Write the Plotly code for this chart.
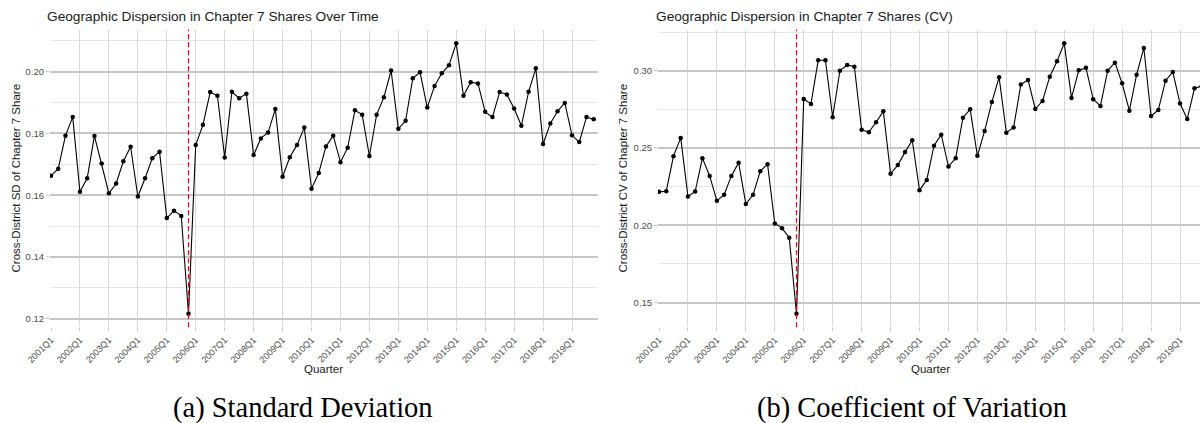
import plotly.graph_objects as go

# Quarterly periods 2001Q1 .. 2019Q4
YEARS = list(range(2001, 2020))
QUARTERS = [f"{y}Q{q}" for y in YEARS for q in range(1, 5)]
TICK_LABELS = [f"{y}Q1" for y in YEARS]
BREAK_QUARTER = "2005Q4"

# Cross-district standard deviation of the Chapter 7 share
SD_VALUES = [
    0.1663, 0.1686, 0.1793, 0.1853, 0.1611, 0.1655, 0.1792, 0.1703,
    0.1606, 0.1638, 0.1710, 0.1757, 0.1596, 0.1655, 0.1720, 0.1741,
    0.1526, 0.1550, 0.1533, 0.1216, 0.1763, 0.1828, 0.1934, 0.1922,
    0.1722, 0.1935, 0.1914, 0.1929, 0.1730, 0.1784, 0.1803, 0.1879,
    0.1660, 0.1723, 0.1763, 0.1819, 0.1621, 0.1672, 0.1758, 0.1793,
    0.1707, 0.1754, 0.1875, 0.1861, 0.1727, 0.1861, 0.1917, 0.2004,
    0.1815, 0.1841, 0.1979, 0.1998, 0.1884, 0.1954, 0.1995, 0.2021,
    0.2092, 0.1922, 0.1966, 0.1962, 0.1870, 0.1853, 0.1934, 0.1926,
    0.1881, 0.1825, 0.1935, 0.2011, 0.1766, 0.1832, 0.1872, 0.1899,
    0.1794, 0.1772, 0.1853, 0.1846,
]

# Cross-district coefficient of variation of the Chapter 7 share
CV_VALUES = [
    0.2216, 0.2220, 0.2447, 0.2565, 0.2186, 0.2218, 0.2434, 0.2319,
    0.2158, 0.2197, 0.2319, 0.2405, 0.2138, 0.2197, 0.2350, 0.2395,
    0.2011, 0.1981, 0.1919, 0.1427, 0.2817, 0.2785, 0.3067, 0.3067,
    0.2699, 0.3000, 0.3037, 0.3026, 0.2617, 0.2602, 0.2666, 0.2738,
    0.2333, 0.2389, 0.2473, 0.2550, 0.2227, 0.2293, 0.2515, 0.2586,
    0.2380, 0.2434, 0.2696, 0.2750, 0.2449, 0.2610, 0.2798, 0.2957,
    0.2599, 0.2632, 0.2910, 0.2940, 0.2752, 0.2804, 0.2961, 0.3061,
    0.3177, 0.2824, 0.3002, 0.3019, 0.2815, 0.2772, 0.3000, 0.3052,
    0.2918, 0.2741, 0.2974, 0.3147, 0.2707, 0.2746, 0.2935, 0.2992,
    0.2787, 0.2688, 0.2886, 0.2900,
]

SD_MAJOR = [0.12, 0.14, 0.16, 0.18, 0.20]
SD_MINOR = [0.13, 0.15, 0.17, 0.19, 0.21]
CV_MAJOR = [0.15, 0.20, 0.25, 0.30]
CV_MINOR = [0.175, 0.225, 0.275, 0.325]

W, H = 1200, 423
SANS = "Liberation Sans, Arial, sans-serif"
SERIF = "Liberation Serif, Times New Roman, serif"

MAJOR_GRID = "#c6c6c6"
MINOR_GRID = "#e6e6e6"
VGRID = "#d9d9d9"


def px_x(v):
    return v / W


def px_y(v):
    return (H - v) / H


def padded(values, frac=0.05):
    lo, hi = min(values), max(values)
    pad = (hi - lo) * frac
    return [lo - pad, hi + pad]


break_idx = QUARTERS.index(BREAK_QUARTER)

fig = go.Figure()

for vals, xa, ya in [(SD_VALUES, "x", "y"), (CV_VALUES, "x2", "y2")]:
    fig.add_trace(go.Scatter(
        x=QUARTERS, y=vals, xaxis=xa, yaxis=ya,
        mode="lines+markers",
        line=dict(color="black", width=1.1),
        marker=dict(color="black", size=4.5),
        showlegend=False, hoverinfo="x+y",
    ))

y_dom = [px_y(327.3), px_y(29.8)]

common_x = dict(
    type="category", categoryorder="array", categoryarray=QUARTERS,
    tickmode="array", tickvals=TICK_LABELS, ticktext=TICK_LABELS,
    tickangle=-45, tickfont=dict(family=SANS, size=9, color="#4d4d4d"),
    showgrid=True, gridcolor=VGRID, gridwidth=1.3,
    ticks="outside", ticklen=3, tickcolor="#c8c8c8", tickwidth=1,
    showline=False, zeroline=False, automargin=False,
)


def y_axis(major, minor, rng, anchor):
    return dict(
        domain=y_dom, range=rng, anchor=anchor, automargin=False,
        tickmode="array", tickvals=major, tickformat=".2f",
        tickfont=dict(family=SANS, size=9.5, color="#4d4d4d"),
        showgrid=True, gridcolor=MAJOR_GRID, gridwidth=1.5,
        minor=dict(tickmode="array", tickvals=minor, showgrid=True,
                   gridcolor=MINOR_GRID, gridwidth=1.0, ticks=""),
        ticks="outside", ticklen=3, tickcolor="#c8c8c8", tickwidth=1,
        showline=False, zeroline=False,
    )


fig.update_layout(
    width=W, height=H,
    margin=dict(l=0, r=0, t=0, b=0, autoexpand=False),
    paper_bgcolor="white", plot_bgcolor="white",
    xaxis=dict(common_x, domain=[px_x(50), px_x(598)],
               range=[-0.138, 75.59], anchor="y"),
    xaxis2=dict(common_x, domain=[px_x(658), 1.0],
                range=[-0.138, 74.76], anchor="y2"),
    yaxis=y_axis(SD_MAJOR, SD_MINOR, padded(SD_VALUES), "x"),
    yaxis2=y_axis(CV_MAJOR, CV_MINOR, padded(CV_VALUES), "x2"),
)

# Vertical marker at the break quarter
for xr, yr in [("x", "y domain"), ("x2", "y2 domain")]:
    fig.add_shape(
        type="line", xref=xr, yref=yr,
        x0=break_idx, x1=break_idx, y0=0, y1=1,
        line=dict(color="red", width=1.2, dash="5px,3px"),
    )

annotations = [
    # panel titles
    dict(text="Geographic Dispersion in Chapter 7 Shares Over Time",
         x=px_x(45), y=px_y(17), xanchor="left", yanchor="middle",
         font=dict(family=SANS, size=13.7, color="#1a1a1a")),
    dict(text="Geographic Dispersion in Chapter 7 Shares (CV)",
         x=px_x(654), y=px_y(17), xanchor="left", yanchor="middle",
         font=dict(family=SANS, size=13.7, color="#1a1a1a")),
    # y axis titles
    dict(text="Cross-District SD of Chapter 7 Share",
         x=px_x(15), y=px_y(178.5), xanchor="center", yanchor="middle",
         textangle=-90, font=dict(family=SANS, size=11.5, color="#1a1a1a")),
    dict(text="Cross-District CV of Chapter 7 Share",
         x=px_x(622), y=px_y(178.5), xanchor="center", yanchor="middle",
         textangle=-90, font=dict(family=SANS, size=11.5, color="#1a1a1a")),
    # x axis titles
    dict(text="Quarter", x=px_x(323), y=px_y(369), xanchor="center",
         yanchor="middle", font=dict(family=SANS, size=11.5, color="#1a1a1a")),
    dict(text="Quarter", x=px_x(930), y=px_y(369), xanchor="center",
         yanchor="middle", font=dict(family=SANS, size=11.5, color="#1a1a1a")),
    # sub-figure captions
    dict(text="(a) Standard Deviation", x=px_x(303), y=px_y(408),
         xanchor="center", yanchor="middle",
         font=dict(family=SERIF, size=28.5, color="black")),
    dict(text="(b) Coefficient of Variation", x=px_x(912), y=px_y(408),
         xanchor="center", yanchor="middle",
         font=dict(family=SERIF, size=28.5, color="black")),
]
for a in annotations:
    a.update(xref="paper", yref="paper", showarrow=False)
fig.update_layout(annotations=annotations)

fig.write_html("out.html")
